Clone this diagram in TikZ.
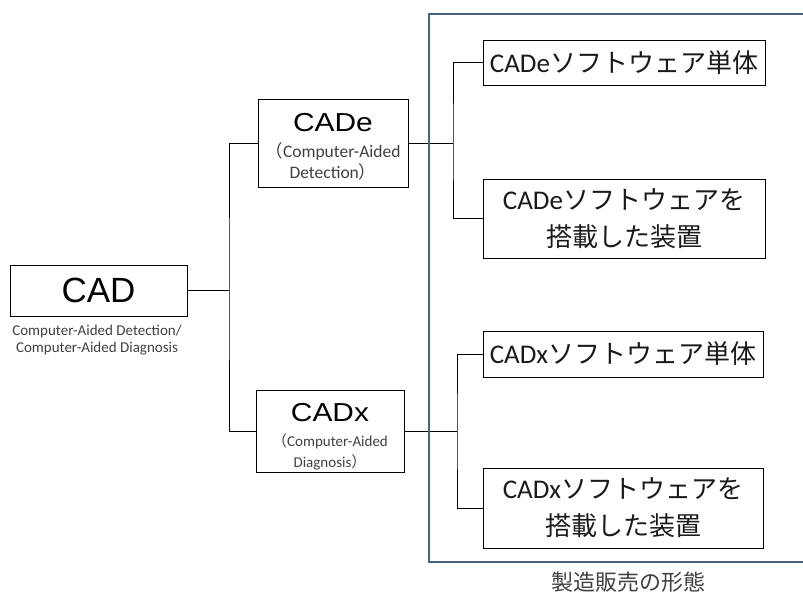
\documentclass[tikz,border=0pt]{standalone}
\usepackage{fontspec}
\setmainfont{Carlito}
\newfontfamily\cjk{Noto Sans CJK JP}
\newfontfamily\arialf{Liberation Sans}
\newfontfamily\arialw{Liberation Sans}[FakeStretch=1.15]
\newcommand\jp[1]{{\cjk\fontsize{26}{37}\selectfont #1}}
\newcommand\jq[1]{{\cjk #1}}
\definecolor{framecol}{HTML}{4A6282}
\definecolor{subgray}{HTML}{404040}
\definecolor{txt}{HTML}{1A1A1A}
\begin{document}
\begin{tikzpicture}[x=1pt,y=-1pt,
  box/.style={draw=black,line width=0.8pt,rectangle,inner sep=0pt,align=center},
  conn/.style={draw=black,line width=0.8pt},
  frame/.style={draw=framecol,line width=2.6pt},
  bigtxt/.style={text=txt,font=\fontsize{27}{37}\selectfont}
]
\useasboundingbox (0,0) rectangle (803,595);
% left level
\node[box,minimum width=177pt,minimum height=51pt] (cad) at (98.5,290.5) {\arialf\fontsize{35}{38}\selectfont CAD};
\node[text=subgray,font=\fontsize{15}{17}\selectfont,align=center,inner sep=0pt] (cadsub) at (97,340) {Computer-Aided Detection/\\Computer-Aided Diagnosis};
% middle level
\node[box,minimum width=150pt,minimum height=88pt] (cade) at (333,143) {};
\node[inner sep=0pt] (cadet) at (333,123) {\arialw\fontsize{26}{28}\selectfont CADe};
\node[inner sep=0pt,align=center,text=subgray,font=\fontsize{17.5}{21}\selectfont] (cadesub) at (333,161) {\jq{（}Computer-Aided\\Detection\jq{）}};
\node[box,minimum width=148pt,minimum height=82pt] (cadx) at (330,431) {};
\node[inner sep=0pt] (cadxt) at (330,413) {\arialw\fontsize{26}{28}\selectfont CADx};
\node[inner sep=0pt,align=center,text=subgray,font=\fontsize{15}{21}\selectfont] (cadxsub) at (330,452) {\jq{（}Computer-Aided\\Diagnosis\jq{）}};
% right level
\node[box,bigtxt,minimum width=282pt,minimum height=45pt] (e1) at (624,62.5) {CADe\jp{ソフトウェア単体}};
\node[box,bigtxt,minimum width=282pt,minimum height=79pt] (e2) at (624,218.5) {CADe\jp{ソフトウェアを}\\\jp{搭載した装置}};
\node[box,bigtxt,minimum width=280pt,minimum height=46pt] (x1) at (623,354) {CADx\jp{ソフトウェア単体}};
\node[box,bigtxt,minimum width=280pt,minimum height=80pt] (x2) at (623,508) {CADx\jp{ソフトウェアを}\\\jp{搭載した装置}};
% connectors
\coordinate (tm) at (229,290.5);
\coordinate (be) at (453,143);
\coordinate (bx) at (457,431);
\draw[conn] (cad.east) -- (tm);
\draw[conn] (cade.west) -| (tm) |- (cadx.west);
\draw[conn] (cade.east) -- (be);
\draw[conn] (e1.west) -| (be) |- (e2.west);
\draw[conn] (cadx.east) -- (bx);
\draw[conn] (x1.west) -| (bx) |- (x2.west);
% frame
\draw[frame] (805,14) -- (429,14) -- (429,562) -- (805,562);
\node[inner sep=0pt,text=subgray,font=\cjk\fontsize{22}{24}\selectfont] (cap) at (628,582) {製造販売の形態};
\end{tikzpicture}
\end{document}
